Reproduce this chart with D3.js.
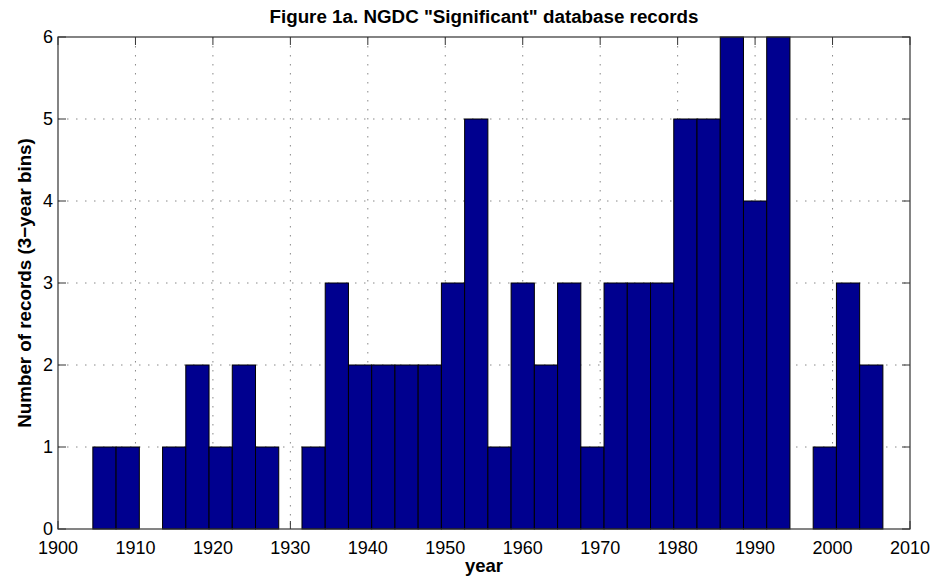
<!DOCTYPE html>
<html>
<head>
<meta charset="utf-8">
<script src="https://cdn.jsdelivr.net/npm/d3@7"></script>
<style>
  html, body { margin: 0; padding: 0; background: #fff; }
  svg { display: block; font-family: "Liberation Sans", Arial, Helvetica, sans-serif; }
</style>
</head>
<body>
<svg id="chart" width="934" height="582"></svg>
<script>
// 3-year bins: left edge of each bin and the record count in it
const binStarts = [1904.5, 1907.5, 1910.5, 1913.5, 1916.5, 1919.5, 1922.5, 1925.5, 1928.5,
  1931.5, 1934.5, 1937.5, 1940.5, 1943.5, 1946.5, 1949.5, 1952.5, 1955.5, 1958.5,
  1961.5, 1964.5, 1967.5, 1970.5, 1973.5, 1976.5, 1979.5, 1982.5, 1985.5, 1988.5,
  1991.5, 1994.5, 1997.5, 2000.5, 2003.5];
const counts = [1, 1, 0, 1, 2, 1, 2, 1, 0,
  1, 3, 2, 2, 2, 2, 3, 5, 1, 3,
  2, 3, 1, 3, 3, 3, 5, 5, 6, 4,
  6, 0, 1, 3, 2];
const binWidth = 3;
const xTicks = [1900, 1910, 1920, 1930, 1940, 1950, 1960, 1970, 1980, 1990, 2000, 2010];
const yTicks = [0, 1, 2, 3, 4, 5, 6];

const titleText = 'Figure 1a. NGDC "Significant" database records';
const xLabelText = 'year';
const yLabelText = 'Number of records (3\u2212year bins)';

const svg = d3.select('#chart');
const L = 58, R = 910, T = 37, B = 529;

const x = d3.scaleLinear().domain([1900, 2010]).range([L, R]);
const y = d3.scaleLinear().domain([0, 6]).range([B, T]);

// dotted grid
const grid = svg.append('g');
grid.selectAll('line.gx').data(xTicks.slice(1, -1)).enter().append('line')
  .attr('x1', d => x(d)).attr('x2', d => x(d)).attr('y1', T).attr('y2', B)
  .attr('stroke', '#888').attr('stroke-width', 1).attr('stroke-dasharray', '1.5,7.5');
grid.selectAll('line.gy').data(yTicks.slice(1, -1)).enter().append('line')
  .attr('x1', L).attr('x2', R).attr('y1', d => y(d)).attr('y2', d => y(d))
  .attr('stroke', '#888').attr('stroke-width', 1).attr('stroke-dasharray', '1.5,7.5');

// inward ticks on all four sides
const tickLen = 8;
const tk = svg.append('g').attr('stroke', '#333').attr('stroke-width', 1);
xTicks.forEach(v => {
  tk.append('line').attr('x1', x(v)).attr('x2', x(v)).attr('y1', B).attr('y2', B - tickLen);
  tk.append('line').attr('x1', x(v)).attr('x2', x(v)).attr('y1', T).attr('y2', T + tickLen);
});
yTicks.forEach(v => {
  tk.append('line').attr('x1', L).attr('x2', L + tickLen).attr('y1', y(v)).attr('y2', y(v));
  tk.append('line').attr('x1', R).attr('x2', R - tickLen).attr('y1', y(v)).attr('y2', y(v));
});

// histogram bars
const bins = binStarts.map((s, i) => ({ start: s, count: counts[i] }));
svg.append('g').selectAll('rect').data(bins.filter(d => d.count > 0)).enter().append('rect')
  .attr('x', d => x(d.start))
  .attr('width', d => x(d.start + binWidth) - x(d.start))
  .attr('y', d => y(d.count))
  .attr('height', d => y(0) - y(d.count))
  .attr('fill', '#00008f')
  .attr('stroke', '#000')
  .attr('stroke-width', 1);

// axes box
svg.append('rect').attr('x', L).attr('y', T).attr('width', R - L).attr('height', B - T)
  .attr('fill', 'none').attr('stroke', '#333').attr('stroke-width', 1.2);

// tick labels
svg.append('g').selectAll('text').data(xTicks).enter().append('text')
  .attr('x', d => x(d)).attr('y', B + 24.5)
  .attr('text-anchor', 'middle').attr('font-size', 18).attr('fill', '#000')
  .text(d => d);
svg.append('g').selectAll('text').data(yTicks).enter().append('text')
  .attr('x', L - 5).attr('y', d => y(d) + 6)
  .attr('text-anchor', 'end').attr('font-size', 18).attr('fill', '#000')
  .text(d => d);

// title and axis labels
svg.append('text').attr('x', (L + R) / 2).attr('y', 22.5)
  .attr('text-anchor', 'middle').attr('font-size', 18.8).attr('font-weight', 'bold')
  .text(titleText);
svg.append('text').attr('x', (L + R) / 2).attr('y', 572)
  .attr('text-anchor', 'middle').attr('font-size', 18.5).attr('font-weight', 'bold')
  .text(xLabelText);
svg.append('text').attr('transform', `translate(31,${(T + B) / 2}) rotate(-90)`)
  .attr('text-anchor', 'middle').attr('font-size', 18.8).attr('font-weight', 'bold')
  .text(yLabelText);
</script>
</body>
</html>
